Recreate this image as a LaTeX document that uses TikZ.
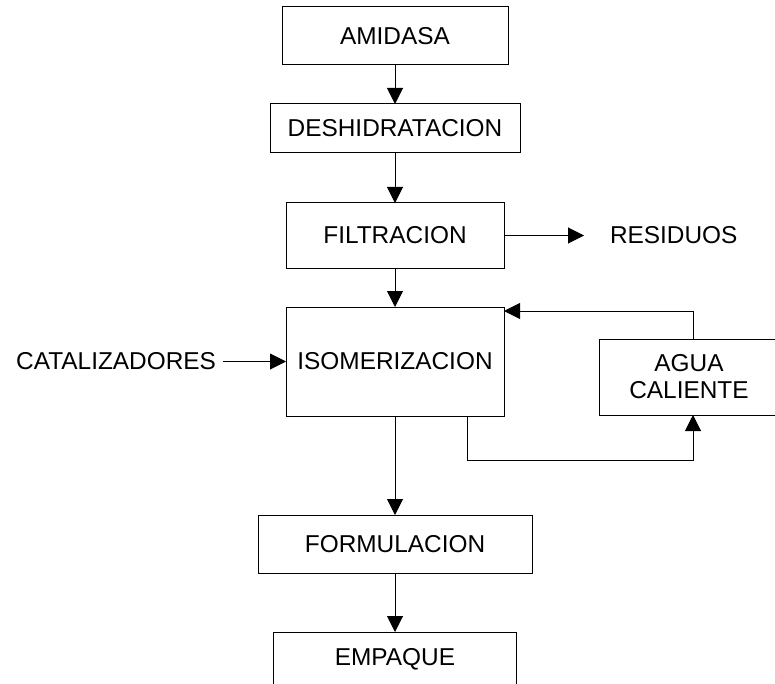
\documentclass[tikz,border=0pt]{standalone}
\usepackage{fontspec}
\setmainfont{Liberation Sans}
\usetikzlibrary{arrows.meta,positioning}

\begin{document}
\begin{tikzpicture}[
    x=0.5pt, y=-0.5pt,
    box/.style={draw, line width=0.5pt, align=center, inner sep=0pt, outer sep=0pt, font=\fontsize{12.2}{13.5}\selectfont},
    lbl/.style={inner sep=0pt, outer sep=0pt, font=\fontsize{12.2}{13.5}\selectfont},
    arrow/.style={-{Triangle[length=8pt, width=8pt]}, line width=0.5pt}
]
\useasboundingbox (0,0) rectangle (775,684);

\node[box, minimum width=113pt, minimum height=29pt] (amid) at (395,36) {AMIDASA};
\node[box, below=19.5pt of amid, minimum width=125pt, minimum height=24.5pt] (desh) {DESHIDRATACION};
\node[box, below=25pt of desh, minimum width=109pt, minimum height=32.5pt] (filt) {FILTRACION};
\node[lbl, right=53pt of filt] (resid) {RESIDUOS};
\node[box, below=19.5pt of filt, minimum width=109pt, minimum height=54.5pt] (isom) {ISOMERIZACION};
\node[lbl, left=35pt of isom] (catal) {CATALIZADORES};
\node[box, minimum width=90pt, minimum height=38pt] (agua) at (689,377) {AGUA\\CALIENTE};
\node[box, below=49.5pt of isom, minimum width=137pt, minimum height=29pt] (form) {FORMULACION};
\node[box, below=29.5pt of form, minimum width=121.5pt, minimum height=27pt] (empa) {EMPAQUE};

\draw[arrow] (amid) -- (desh);
\draw[arrow] (desh) -- (filt);
\draw[arrow, shorten >=13pt] (filt) -- (resid);
\draw[arrow] (filt) -- (isom);
\draw[arrow, shorten <=3.5pt] (catal) -- (isom);
\draw[arrow] ([xshift=2pt]agua.north) |- ([yshift=-2pt]isom.north east);
\draw[arrow] ([xshift=36pt]isom.south) -- ++(0,44) -| ([xshift=2pt]agua.south);
\draw[arrow] (isom) -- (form);
\draw[arrow] (form) -- (empa);
\end{tikzpicture}
\end{document}
